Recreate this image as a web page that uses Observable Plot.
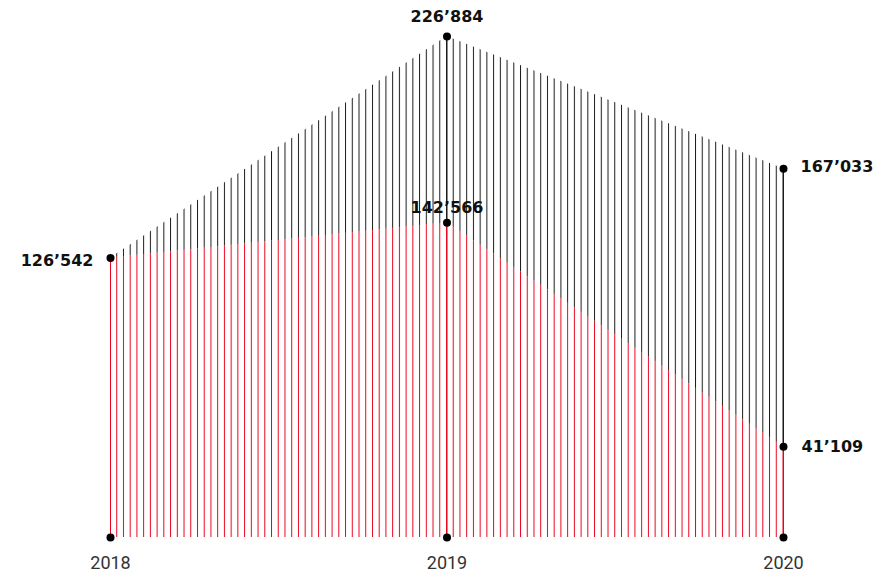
<!DOCTYPE html>
<html>
<head>
<meta charset="utf-8">
<script src="https://cdn.jsdelivr.net/npm/d3@7"></script>
<script src="https://cdn.jsdelivr.net/npm/@observablehq/plot@0.6"></script>
<style>
  html, body { margin: 0; padding: 0; background: #fff; }
</style>
</head>
<body>
<div id="chart"></div>
<script>
// ---- data ----
const years = [2018, 2019, 2020];
const totalValues = [126542, 226884, 167033];
const redValues = [126542, 142566, 41109];

const DARK = "#1a1a1a";
const RED = "#e8041c";

const rows = years.map((year, i) => ({year, total: totalValues[i], red: redValues[i]}));

const locale = d3.formatLocale({decimal: ".", thousands: "\u2019", grouping: [3], currency: ["", ""]});
const fmt = locale.format(",d");

const labelFont = {fontFamily: "DejaVu Sans", fontWeight: "bold", fontSize: 16, fill: "#111"};

const chart = Plot.plot({
  width: 892,
  height: 577,
  marginLeft: 110,
  marginRight: 109,
  marginTop: 36,
  marginBottom: 40,
  style: {background: "#fff", fontFamily: "Roboto, sans-serif"},
  x: {domain: [2018, 2020], axis: null},
  y: {domain: [0, 226884], axis: null},
  marks: [
    Plot.areaY(rows, {x: "year", y1: "red", y2: "total", fill: "url(#stripes-dark)"}),
    Plot.areaY(rows, {x: "year", y1: 0, y2: "red", fill: "url(#stripes-red)"}),
    Plot.ruleX(rows, {x: "year", y1: "red", y2: "total", stroke: DARK, strokeWidth: 1}),
    Plot.ruleX(rows, {x: "year", y1: 0, y2: "red", stroke: RED, strokeWidth: 1}),
    Plot.dot(rows, {x: "year", y: "total", r: 4, fill: "#000"}),
    Plot.dot(rows.filter((d, i) => i > 0), {x: "year", y: "red", r: 4, fill: "#000"}),
    Plot.dot(years, {x: d => d, y: 0, r: 4, fill: "#000"}),
    // value labels
    Plot.text(rows.filter((d, i) => i === 1), {x: "year", y: "total", text: d => fmt(d.total), dy: -20, textAnchor: "middle", ...labelFont}),
    Plot.text(rows.filter((d, i) => i === 1), {x: "year", y: "red", text: d => fmt(d.red), dy: -15, textAnchor: "middle", ...labelFont}),
    Plot.text(rows.filter((d, i) => i === 0), {x: "year", y: "total", text: d => fmt(d.total), dx: -17, dy: 3, textAnchor: "end", ...labelFont}),
    Plot.text(rows.filter((d, i) => i === 2), {x: "year", y: "total", text: d => fmt(d.total), dx: 17, dy: -2, textAnchor: "start", ...labelFont}),
    Plot.text(rows.filter((d, i) => i === 2), {x: "year", y: "red", text: d => fmt(d.red), dx: 18, dy: 0, textAnchor: "start", ...labelFont}),
    // year labels
    Plot.text(years, {x: d => d, y: 0, text: d => String(d), dy: 26, fontSize: 18, fill: "#333", fontFamily: "Roboto, sans-serif"})
  ]
});

// stripe patterns aligned with the x scale: 50 rules per year
const xs = chart.scale("x");
const x0 = xs.apply(years[0]);
const step = (xs.apply(years[1]) - xs.apply(years[0])) / 50;
const svg = d3.select(chart);
const defs = svg.insert("defs", ":first-child");
[["stripes-dark", DARK], ["stripes-red", RED]].forEach(([id, color]) => {
  const p = defs.append("pattern")
    .attr("id", id)
    .attr("patternUnits", "userSpaceOnUse")
    .attr("x", x0 - 0.5)
    .attr("y", 0)
    .attr("width", step)
    .attr("height", 577);
  p.append("rect").attr("x", 0).attr("y", 0).attr("width", 1).attr("height", 577).attr("fill", color);
});

document.getElementById("chart").appendChild(chart);
</script>
</body>
</html>
